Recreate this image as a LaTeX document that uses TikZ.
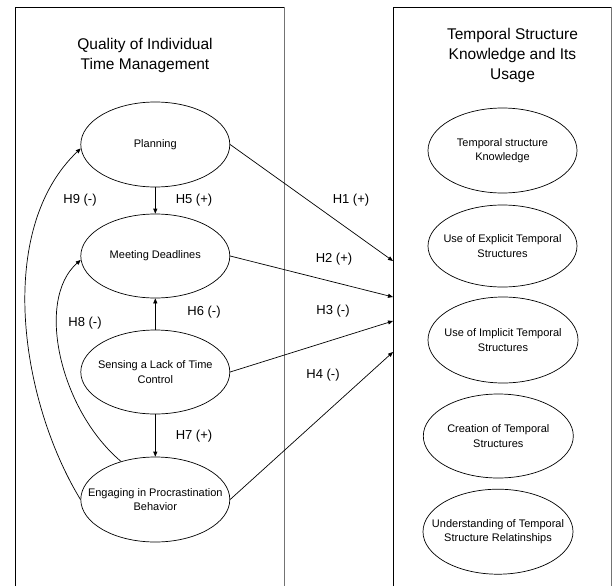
\documentclass[tikz,border=0pt]{standalone}
\usepackage{fontspec}
\setmainfont{Liberation Sans}
\usepackage{tikz}
\usetikzlibrary{shapes.geometric, arrows.meta}
\tikzset{construct/.style={ellipse, draw, minimum width=149pt, minimum height=84pt, inner sep=0pt,
  label={[align=center, font=\fontsize{11}{14.5}\selectfont]center:#1}},
hyp/.style={font=\fontsize{13}{15}\selectfont},
boxtitle/.style={align=center, font=\fontsize{15.5}{20}\selectfont},
%small filled tip used for every hypothesis
link/.style={-{Triangle[length=5pt,width=4pt]}}}

\begin{document}
\begin{tikzpicture}[x=1pt,y=-1pt,line width=0.7pt]
 \useasboundingbox (0,0) rectangle (612,586);

 % the two open boxes
 \draw (15,586) -- (15,7) -- (284,7);
 \draw[black!55] (284,7) -- (284,586);
 \draw (393,586) -- (393,7) -- (611.3,7);
 \draw[black!55] (611.3,7) -- (611.3,586);

 \node[boxtitle] (titleleft) at (145,55) {Quality of Individual\\Time Management};
 \node[boxtitle] (titleright) at (512.5,55) {Temporal Structure\\Knowledge and Its\\Usage};

 \node[construct={Planning}, minimum height=85pt] (plan) at (155.3,144.5) {};
 \node[construct={Meeting Deadlines}] (meet) at (155.3,256) {};
 \node[construct={Sensing a Lack of Time\\Control}] (sens) at (155.3,372) {};
 \node[construct={Engaging in Procrastination\\Behavior}, minimum height=85pt] (eng) at (155.3,499.5) {};

 \node[construct={Temporal structure\\Knowledge}, minimum height=85pt] (know) at (502.5,150.5) {};
 \node[construct={Use of Explicit Temporal\\Structures}, minimum height=82pt] (expl) at (502.5,246) {};
 \node[construct={Use of Implicit Temporal\\Structures}, minimum width=150pt, minimum height=86pt] (impl) at (503,340) {};
 \node[construct={Creation of Temporal\\Structures}, minimum width=150pt] (crea) at (498.3,436) {};
 \node[construct={Understanding of Temporal\\Structure Relatinships}, minimum width=150pt, minimum height=85pt] (under) at (498,531.7) {};

 \coordinate (e1) at (393,261);
 \coordinate (e2) at (393,297);
 \coordinate (e3) at (393,321);
 \coordinate (e4) at (393,352);

 \draw[link] (plan.east) -- (e1);
 \draw[link] (meet.east) -- (e2);
 \draw[link] (sens.east) -- (e3);
 \draw[link] (eng.east) -- (e4);

 \draw[link] (plan) -- (meet);
 \draw[link] (sens) -- (meet);
 \draw[link] (sens) -- (eng);
 \draw[link] (eng.132) .. controls (60,410) and (35,300) .. (meet.183);
 \draw[link] (eng.west) .. controls (20,400) and (-5,230) .. (plan.183);

 \node[hyp] (h1) at (351,200) {H1 (+)};
 \node[hyp] (h2) at (334,259) {H2 (+)};
 \node[hyp] (h3) at (333,311) {H3 (-)};
 \node[hyp] (h4) at (323,375) {H4 (-)};
 \node[hyp] (h5) at (194,200) {H5 (+)};
 \node[hyp] (h6) at (204,312) {H6 (-)};
 \node[hyp] (h7) at (194,436) {H7 (+)};
 \node[hyp] (h8) at (85,323) {H8 (-)};
 \node[hyp] (h9) at (80,200) {H9 (-)};

\end{tikzpicture}
\end{document}
